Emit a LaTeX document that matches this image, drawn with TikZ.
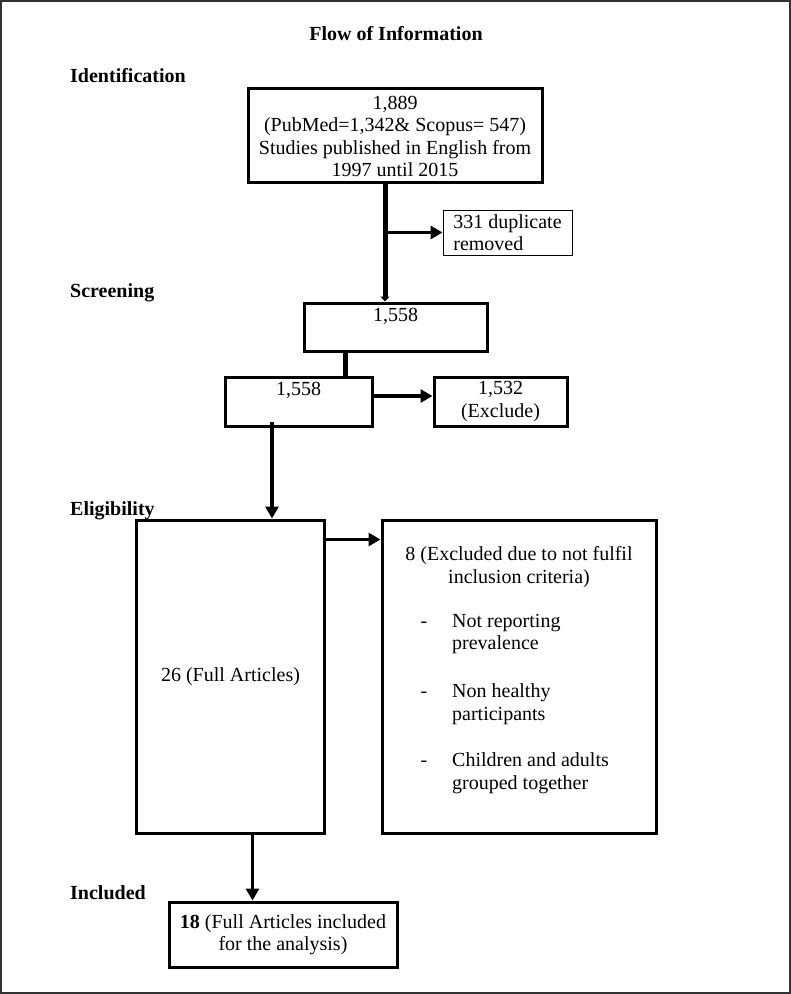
\documentclass[tikz,border=0pt]{standalone}
\usepackage{fontspec}
\setmainfont{Liberation Serif}
\usetikzlibrary{arrows.meta}

\tikzset{
  flowbox/.style={draw, line width=3pt, inner sep=0pt, align=center},
  notebox/.style={draw, line width=0.9pt, inner sep=0pt, align=left},
  txt/.style={inner sep=0pt, align=center},
  phase/.style={inner sep=0pt, anchor=base west, font=\fontsize{20}{22.5}\selectfont\bfseries},
  trunk/.style={line width=5pt},
  flowarrow/.style={line width=3.5pt, -{Triangle[length=12pt,width=13pt]}},
}

\begin{document}
\begin{tikzpicture}[x=1pt, y=-1pt, font=\fontsize{20}{22.5}\selectfont]
\useasboundingbox (0,0) rectangle (791,994);
\draw[line width=1.2pt, black!80] (1,1) rectangle (790,993);

% headings
\node[phase, anchor=base] (title) at (396,40) {Flow of Information};
\node[phase] (lblident) at (70,82) {Identification};
\node[phase] (lblscr) at (70,297) {Screening};
\node[phase] (lblelig) at (70,515) {Eligibility};
\node[phase] (lblincl) at (70,899) {Included};

% boxes
\node[flowbox, minimum width=294pt, minimum height=94pt] (ident) at (395,135) {};
\node[txt] (identtxt) at (395,136.5) {1,889\\(PubMed=1,342\& Scopus= 547)\\Studies published in English from\\1997 until 2015};
\node[notebox, minimum width=129pt, minimum height=45pt] (dupl) at (507.5,232.5) {331 duplicate\\removed};
\node[flowbox, minimum width=183pt, minimum height=48pt] (scr) at (395.5,327) {};
\node[txt] (scrtxt) at (395.5,316) {1,558};
\node[flowbox, minimum width=147pt, minimum height=49pt] (sel) at (298.5,401.5) {};
\node[txt] (seltxt) at (298.5,390) {1,558};
\node[flowbox, minimum width=133pt, minimum height=49pt] (excl) at (500.5,401.5) {1,532\\(Exclude)};
\node[flowbox, minimum width=188pt, minimum height=313pt] (full) at (230.5,676.5) {26 (Full Articles)};
\node[flowbox, minimum width=274pt, minimum height=313pt] (crit) at (519,676.5) {};
\node[txt] (crittxt) at (519,567) {8 (Excluded due to not fulfil\\inclusion criteria)};
\foreach \yy/\dd/\itm [count=\k] in {634/625/{Not reporting\\prevalence}, 704/695/{Non healthy\\participants}, 773/764/{Children and adults\\grouped together}}
{
  \node[txt] (dash\k) at (424,\dd) {-};
  \node[txt, anchor=west, align=left] (item\k) at (452,\yy) {\itm};
}
\node[flowbox, minimum width=228pt, minimum height=65pt] (incl) at (283,934.5) {\textbf{18} (Full Articles included\\for the analysis)};

% connectors
\draw[trunk, -{Triangle[length=5pt,width=9pt]}] ([xshift=-10pt]ident.south) -- ([xshift=-10pt]ident.south |- scr.north);
\draw[flowarrow] ([xshift=-10pt]ident.south |- dupl.west) -- (dupl.west);
\draw[trunk] ([xshift=-50.5pt]scr.south) -- ([xshift=-50.5pt]scr.south |- sel.north);
\draw[flowarrow] ([yshift=5.5pt]sel.east) -- ([yshift=5.5pt]sel.east -| excl.west);
\draw[flowarrow] ([xshift=-26.5pt,yshift=6pt]sel.south) -- ([xshift=-26.5pt]sel.south |- full.north);
\draw[flowarrow] ([yshift=-21pt]full.north east) -- ([yshift=-21pt]full.north east -| crit.west);
\draw[flowarrow] ([xshift=22pt]full.south) -- ([xshift=22pt]full.south |- incl.north);
\end{tikzpicture}
\end{document}
